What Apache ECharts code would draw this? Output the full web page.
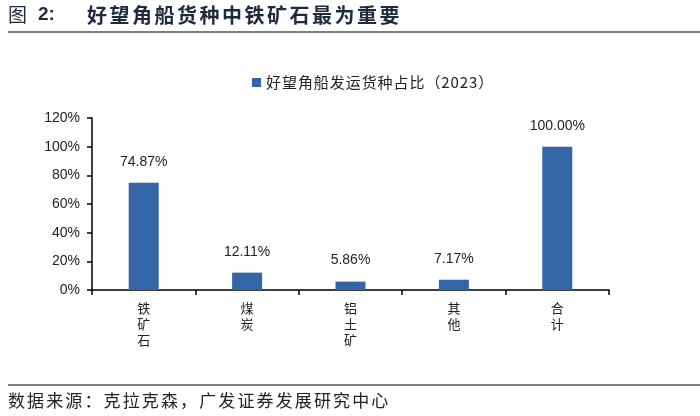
<!DOCTYPE html>
<html><head><meta charset="utf-8">
<script src="https://cdn.jsdelivr.net/npm/echarts@6/dist/echarts.min.js"></script>
<style>html,body{margin:0;padding:0;background:#fff}#c{width:700px;height:416px}</style>
</head><body><div id="c"></div>
<script>
const categories = ['铁矿石', '煤炭', '铝土矿', '其他', '合计'];
const shareValues = [74.87, 12.11, 5.86, 7.17, 100.00];
const yTicks = [0, 20, 40, 60, 80, 100, 120];
const seriesName = '好望角船发运货种占比（2023）';

const sp = s => s.split('').join('\u200A');
const sp2 = s => s.split('').join('\u200A\u200A');
const chart = echarts.init(document.getElementById('c'), null, {renderer: 'canvas'});
const cjk = '"Noto Sans CJK SC", "Noto Sans", sans-serif';
chart.setOption({
  animation: false,
  backgroundColor: '#fff',
  grid: {left: 92, right: 91, top: 118, bottom: 126},
  legend: {
    left: 247, top: 70,
    itemWidth: 9, itemHeight: 9, icon: 'rect',
    textStyle: {fontSize: 15, color: '#222', fontFamily: cjk},
    formatter: n => sp(n),
    data: [seriesName]
  },
  xAxis: {
    type: 'category', data: categories,
    axisLine: {lineStyle: {color: '#000', width: 1.5}},
    axisTick: {show: true, length: 5, inside: false, lineStyle: {color: '#000', width: 1.5}},
    axisLabel: {
      margin: 10, fontSize: 13, lineHeight: 16, color: '#222', fontFamily: cjk,
      formatter: v => v.split('').join('\n')
    }
  },
  yAxis: {
    type: 'value', min: yTicks[0], max: yTicks[yTicks.length - 1], interval: 20,
    splitLine: {show: false},
    axisLine: {show: true, lineStyle: {color: '#000', width: 1.5}},
    axisTick: {show: true, length: 5, lineStyle: {color: '#000', width: 1.5}},
    axisLabel: {margin: 12, fontSize: 14, color: '#222', fontFamily: 'Arial, "Liberation Sans", sans-serif',
      formatter: v => v + '%'}
  },
  series: [{
    name: seriesName, type: 'bar', data: shareValues, barWidth: 30,
    itemStyle: {color: '#3465a6'},
    label: {show: true, position: 'top', distance: 14, fontSize: 14, color: '#222',
      fontFamily: 'Arial, "Liberation Sans", sans-serif',
      formatter: p => p.value.toFixed(2) + '%'}
  }],
  graphic: [
    {type: 'text', left: 8, top: 5, style: {text: '图', fontSize: 19, fill: '#1f2a3c', fontFamily: cjk}},
    {type: 'text', left: 38, top: 5, style: {text: '2:', fontSize: 19, fontWeight: 'bold', fill: '#1f2a3c', fontFamily: 'Arial, "Liberation Sans", sans-serif'}},
    {type: 'text', left: 87, top: 5, style: {text: sp2('好望角船货种中铁矿石最为重要'), fontSize: 20, fontWeight: 'bold', fill: '#1f2a3c', fontFamily: cjk}},
    {type: 'rect', shape: {x: 8, y: 31, width: 692, height: 2}, style: {fill: '#7f7f7f'}},
    {type: 'rect', shape: {x: 8, y: 384, width: 692, height: 2}, style: {fill: '#7f7f7f'}},
    {type: 'text', left: 8, top: 392, style: {text: sp2('数据来源：克拉克森，广发证券发展研究中心'), fontSize: 17, fill: '#222', fontFamily: cjk}}
  ]
});
</script></body></html>
